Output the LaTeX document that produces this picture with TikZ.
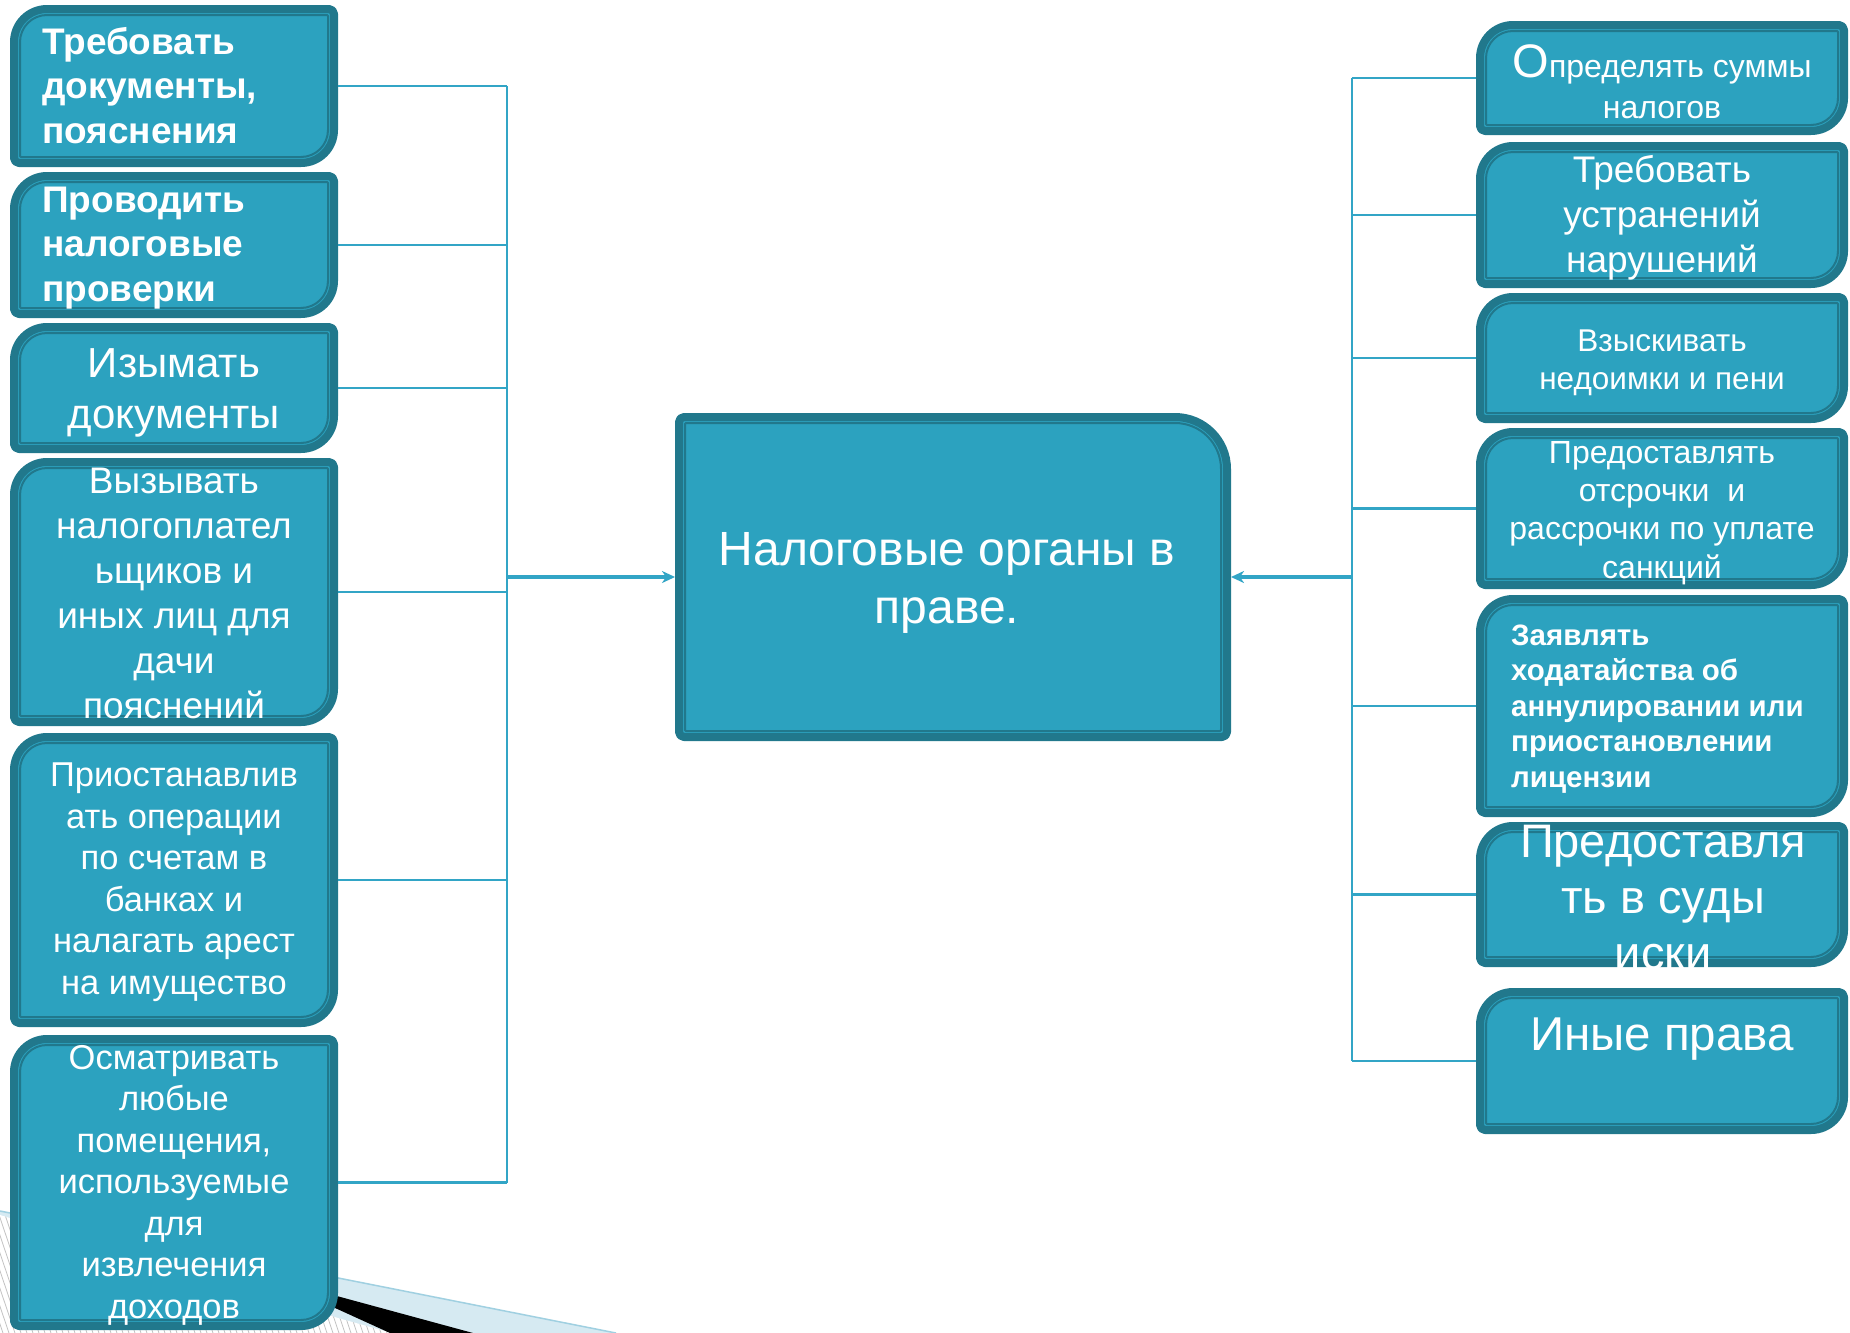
\documentclass[tikz,border=0pt]{standalone}
\usepackage{fontspec}
\setmainfont{Liberation Sans}
\usetikzlibrary{arrows.meta,calc}
\definecolor{boxfill}{RGB}{44,162,191}
\definecolor{boxedge}{RGB}{33,120,140}
\definecolor{conncol}{RGB}{50,165,198}
\definecolor{deco}{RGB}{214,234,242}
\definecolor{decoline}{RGB}{160,208,225}
\definecolor{hatchcol}{RGB}{195,195,195}
% name, x1, y1, x2, y2 (pixels, y downward), radii: tl, tr, br, bl
\newcommand\taxbox[9]{%
  \pgfmathsetmacro\bxL{#2+4}\pgfmathsetmacro\bxR{#4-4}%
  \pgfmathsetmacro\bxT{-#3-4}\pgfmathsetmacro\bxB{-#5+4}%
  \filldraw[fill=boxfill,draw=boxedge,line width=8pt,line join=round]
    (\bxL,\bxB+#9) -- (\bxL,\bxT-#6) arc(180:90:#6) -- (\bxR-#7,\bxT) arc(90:0:#7)
    -- (\bxR,\bxB+#8) arc(0:-90:#8) -- (\bxL+#9,\bxB) arc(270:180:#9) -- cycle;
  \pgfmathsetmacro\ixL{\bxL+6}\pgfmathsetmacro\ixR{\bxR-6}%
  \pgfmathsetmacro\ixT{\bxT-6}\pgfmathsetmacro\ixB{\bxB+6}%
  \pgfmathsetmacro\rA{max(#6-6,1)}\pgfmathsetmacro\rB{max(#7-6,1)}%
  \pgfmathsetmacro\rC{max(#8-6,1)}\pgfmathsetmacro\rD{max(#9-6,1)}%
  \draw[boxedge,line width=2pt]
    (\ixL,\ixB+\rD) -- (\ixL,\ixT-\rA) arc(180:90:\rA) -- (\ixR-\rB,\ixT) arc(90:0:\rB)
    -- (\ixR,\ixB+\rC) arc(0:-90:\rC) -- (\ixL+\rD,\ixB) arc(270:180:\rD) -- cycle;
  \node[boxnode,minimum width={#4-#2},minimum height={#5-#3}] (#1) at ({(#2+#4)/2},{-(#3+#5)/2}) {};
}
\begin{document}
\begin{tikzpicture}[x=1pt,y=1pt,
  boxnode/.style={inner sep=0pt,outer sep=0pt,rectangle},
  conn/.style={draw=conncol,line width=2.3pt},
  arr/.style={draw=conncol,line width=3.5pt,-{Stealth[length=13pt,width=12pt,inset=4pt]}},
  txc/.style={text=white,inner sep=0pt,align=center,anchor=base},
  txl/.style={text=white,inner sep=0pt,align=left,anchor=base west}]
\useasboundingbox (0,0) rectangle (1850,-1333);
\fill[white] (0,0) rectangle (1850,-1333);
% decoration bottom left
\fill[deco] (0,-1211) -- (616,-1333) -- (0,-1333) -- cycle;
\begin{scope}
  \clip (0,-1215) -- (338,-1318) -- (392,-1333) -- (0,-1333) -- cycle;
  \fill[white] (0,-1200) rectangle (400,-1333);
  \foreach \hx in {-60,-54,...,400} \draw[hatchcol,line width=0.8pt] (\hx,-1200) -- (\hx+45,-1333);
\end{scope}
\fill[black] (300,-1286) -- (473,-1333) -- (390,-1333) -- (300,-1292) -- cycle;
\draw[decoline,line width=1.5pt] (0,-1211) -- (616,-1333);
% boxes
\taxbox{L1}{10}{5}{338}{167}{33}{5}{33}{5}
\taxbox{L2}{10}{172}{338}{318}{33}{5}{33}{5}
\taxbox{L3}{10}{323}{338}{453}{33}{5}{33}{5}
\taxbox{L4}{10}{458}{338}{726}{33}{5}{33}{5}
\taxbox{L5}{10}{733}{338}{1027}{33}{5}{33}{5}
\taxbox{L6}{10}{1035}{338}{1330}{33}{5}{33}{5}
\taxbox{C}{675}{413}{1231}{741}{5}{52}{5}{5}
\taxbox{R1}{1476}{21}{1848}{135}{33}{5}{33}{5}
\taxbox{R2}{1476}{142}{1848}{288}{33}{5}{33}{5}
\taxbox{R3}{1476}{293}{1848}{423}{33}{5}{33}{5}
\taxbox{R4}{1476}{428}{1848}{589}{33}{5}{33}{5}
\taxbox{R5}{1476}{595}{1848}{817}{33}{5}{33}{5}
\taxbox{R6}{1476}{822}{1848}{967}{33}{5}{33}{5}
\taxbox{R7}{1476}{988}{1848}{1134}{33}{5}{33}{5}
% texts (anchor = baseline of the last line)
\node[txl,font=\fontsize{37}{44.5}\selectfont\bfseries] (L1t) at (42,-143) {Требовать\\документы,\\пояснения};
\node[txl,font=\fontsize{37}{44.5}\selectfont\bfseries] (L2t) at (42,-301) {Проводить\\налоговые\\проверки};
\node[txc,font=\fontsize{42}{51}\selectfont] (L3t) at (174,-428) {Изымать\\документы};
\node[txc,font=\fontsize{37}{45}\selectfont] (L4t) at (174,-718) {Вызывать\\налогоплател\\ьщиков и\\иных лиц для\\дачи\\пояснений};
\node[txc,font=\fontsize{34.5}{41.5}\selectfont] (L5t) at (174,-994) {Приостанавлив\\ать операции\\по счетам в\\банках и\\налагать арест\\на имущество};
\node[txc,font=\fontsize{34.5}{41.5}\selectfont] (L6t) at (174,-1318) {Осматривать\\любые\\помещения,\\используемые\\для\\извлечения\\доходов};
\node[txc,font=\fontsize{48}{58}\selectfont] (Ct) at (947,-623) {Налоговые органы в\\праве.};
\node[txc,font=\fontsize{32}{41}\selectfont] (R1t) at (1662,-118) {{\fontsize{47}{41}\selectfont О}пределять суммы\\налогов};
\node[txc,font=\fontsize{37}{45}\selectfont] (R2t) at (1662,-272) {Требовать\\устранений\\нарушений};
\node[txc,font=\fontsize{31.5}{38}\selectfont] (R3t) at (1662,-389) {Взыскивать\\недоимки и пени};
\node[txc,font=\fontsize{32}{38.3}\selectfont] (R4t) at (1662,-578) {Предоставлять\\отсрочки\ \ и\\рассрочки по уплате\\санкций};
\node[txl,font=\fontsize{29.5}{35.5}\selectfont\bfseries] (R5t) at (1511,-787) {Заявлять\\ходатайства об\\аннулировании или\\приостановлении\\лицензии};
\node[txc,font=\fontsize{47}{56}\selectfont] (R6t) at (1663,-969) {Предоставля\\ть в суды\\иски};
\node[txc,font=\fontsize{47.5}{57}\selectfont] (R7t) at (1662,-1050) {Иные права};
% connectors
\coordinate (LT) at (507,0);
\coordinate (RT) at (1352,0);
\foreach \b in {L1,L2,L3,L4,L5,L6} \draw[conn] (\b.east) -- (\b.east -| LT);
\draw[conn] (L1.east -| LT) -- (L6.east -| LT);
\foreach \b in {R1,R2,R3,R4,R5,R6,R7} \draw[conn] (\b.west) -- (\b.west -| RT);
\draw[conn] (R1.west -| RT) -- (R7.west -| RT);
\draw[arr] (C.west -| LT) -- (C.west);
\draw[arr] (C.east -| RT) -- (C.east);
\end{tikzpicture}
\end{document}
